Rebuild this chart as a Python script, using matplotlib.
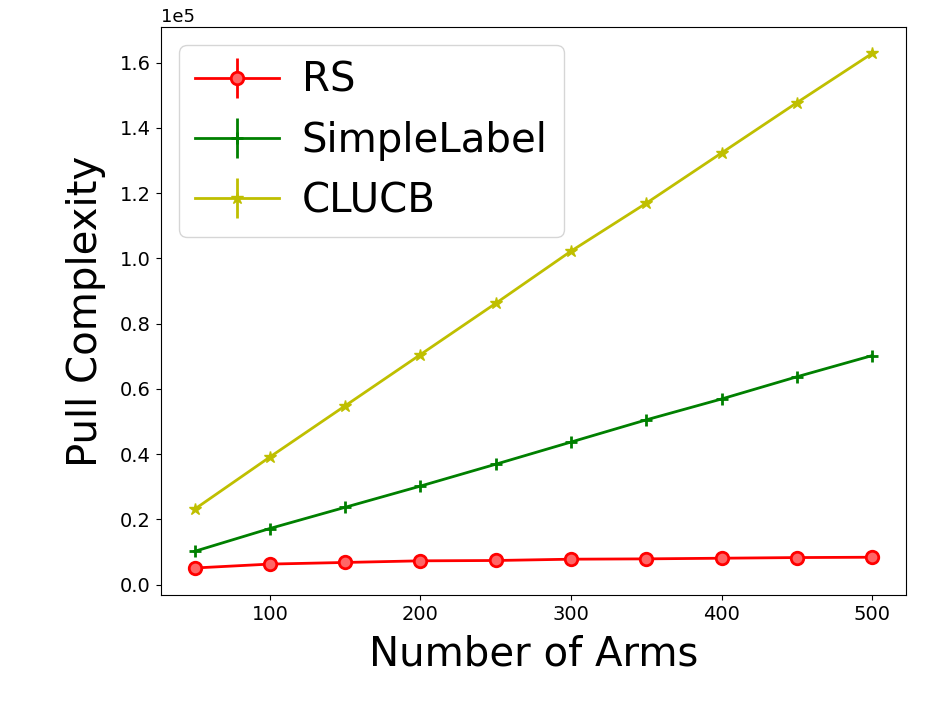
import matplotlib
matplotlib.use('Agg')
import matplotlib.pyplot as plt
import numpy as np

# Data (values in units of 1e5)
num_arms = [50, 100, 150, 200, 250, 300, 350, 400, 450, 500]
rs_vals = [0.051, 0.063, 0.068, 0.073, 0.074, 0.078, 0.079, 0.081, 0.083, 0.084]
rs_err = [0.004, 0.004, 0.004, 0.004, 0.004, 0.004, 0.004, 0.004, 0.004, 0.004]
simple_vals = [0.102, 0.172, 0.237, 0.302, 0.369, 0.437, 0.505, 0.569, 0.637, 0.702]
simple_err = [0.002, 0.002, 0.002, 0.002, 0.002, 0.002, 0.002, 0.002, 0.002, 0.002]
clucb_vals = [0.231, 0.391, 0.548, 0.705, 0.862, 1.022, 1.169, 1.323, 1.477, 1.628]
clucb_err = [0.003, 0.003, 0.003, 0.003, 0.003, 0.003, 0.003, 0.003, 0.003, 0.003]

fig = plt.figure(figsize=(9.34, 7.01), dpi=100)
ax = fig.add_axes([0.172, 0.151, 0.798, 0.811])

scale = 1e5
ax.errorbar(num_arms, np.array(rs_vals) * scale, yerr=np.array(rs_err) * scale,
            color='red', marker='o', markersize=9, mfc='#ff6666', mew=2,
            linewidth=2, elinewidth=2, label='RS')
ax.errorbar(num_arms, np.array(simple_vals) * scale, yerr=np.array(simple_err) * scale,
            color='green', marker='+', markersize=9, mew=2,
            linewidth=2, elinewidth=2, label='SimpleLabel')
ax.errorbar(num_arms, np.array(clucb_vals) * scale, yerr=np.array(clucb_err) * scale,
            color='y', marker='*', markersize=9,
            linewidth=2, elinewidth=2, label='CLUCB')

ax.set_xlabel('Number of Arms', fontsize=29, labelpad=8)
ax.set_ylabel('Pull Complexity', fontsize=29, labelpad=10)
ax.ticklabel_format(axis='y', style='sci', scilimits=(0, 0))
ax.tick_params(labelsize=14)
ax.yaxis.get_offset_text().set_fontsize(13)
ax.set_xticks([100, 200, 300, 400, 500])

ax.legend(loc='upper left', fontsize=29, borderaxespad=0.45,
          handlelength=2.1, handletextpad=0.55)

plt.savefig('out.png', dpi=100)
plt.close()
